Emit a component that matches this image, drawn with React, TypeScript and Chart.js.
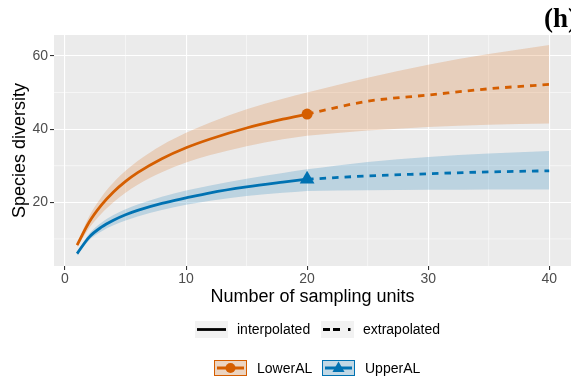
import React, { useEffect, useRef } from "react";
import { Chart, registerables } from "chart.js";

Chart.register(...registerables);

// ---- data ----
const interpX = [1, 2, 3, 4, 5, 6, 8, 10, 12, 15, 18, 20];
const extrapX = [20, 25, 30, 35, 40];

const lowerInterp = [8.3, 14.6, 19.2, 22.8, 25.7, 28.1, 31.9, 34.9, 37.3, 40.3, 42.7, 44.1];
const lowerExtrap = [44.1, 47.6, 49.3, 51.0, 52.2];
const lowerUpperCI = [8.8, 16.2, 21.4, 25.4, 28.6, 31.3, 35.6, 39.0, 41.8, 45.4, 48.3, 50.0];
const lowerUpperCIExt = [50.0, 54.0, 57.6, 60.5, 63.0];
const lowerLowerCI = [7.8, 13.0, 16.9, 20.0, 22.6, 24.8, 28.2, 30.9, 32.9, 35.3, 37.2, 38.2];
const lowerLowerCIExt = [38.2, 39.6, 40.6, 41.2, 41.5];

const upperInterp = [6.0, 10.5, 13.2, 15.1, 16.6, 17.8, 19.7, 21.2, 22.6, 24.2, 25.5, 26.3];
const upperExtrap = [26.3, 27.2, 27.8, 28.3, 28.6];
const upperUpperCI = [6.5, 11.4, 14.4, 16.5, 18.1, 19.4, 21.5, 23.2, 24.6, 26.4, 28.0, 29.0];
const upperUpperCIExt = [29.0, 31.0, 32.4, 33.3, 34.0];
const upperLowerCI = [5.5, 9.6, 12.0, 13.7, 15.0, 16.1, 17.9, 19.3, 20.4, 21.7, 22.6, 23.1];
const upperLowerCIExt = [23.1, 23.3, 23.4, 23.5, 23.5];

const observedX = 20;
const observedLower = 44.1;
const observedUpper = 26.3;

const xTicks = [0, 10, 20, 30, 40];
const xMinor = [5, 15, 25, 35];
const yTicks = [20, 40, 60];
const yMinor = [10, 30, 50];

const seriesNames = ["LowerAL", "UpperAL"];
const methodNames = ["interpolated", "extrapolated"];

// ---- styles ----
const ORANGE = "#D55E00";
const BLUE = "#0072B2";
const ORANGE_FILL = "rgba(213,94,0,0.2)";
const BLUE_FILL = "rgba(0,114,178,0.2)";
const FONT = "'Liberation Sans', Arial, Helvetica, sans-serif";

const pts = (xs: number[], ys: number[]) => xs.map((x, i) => ({ x, y: ys[i] }));

const bgPlugin = {
  id: "panelBg",
  beforeDraw(chart: any) {
    const { ctx, chartArea: a, scales } = chart;
    ctx.save();
    ctx.fillStyle = "#EBEBEB";
    ctx.fillRect(a.left, a.top, a.right - a.left, a.bottom - a.top);
    ctx.strokeStyle = "#FFFFFF";
    ctx.lineWidth = 0.55;
    xMinor.forEach((v) => {
      const px = scales.x.getPixelForValue(v);
      ctx.beginPath();
      ctx.moveTo(px, a.top);
      ctx.lineTo(px, a.bottom);
      ctx.stroke();
    });
    yMinor.forEach((v) => {
      const py = scales.y.getPixelForValue(v);
      ctx.beginPath();
      ctx.moveTo(a.left, py);
      ctx.lineTo(a.right, py);
      ctx.stroke();
    });
    ctx.restore();
  },
};

function drawTriangle(ctx: CanvasRenderingContext2D, cx: number, cy: number, r: number) {
  ctx.beginPath();
  ctx.moveTo(cx, cy - r);
  ctx.lineTo(cx + r * 0.866, cy + r * 0.5);
  ctx.lineTo(cx - r * 0.866, cy + r * 0.5);
  ctx.closePath();
  ctx.fill();
}

const legendPlugin = {
  id: "customLegend",
  afterDraw(chart: any) {
    const ctx: CanvasRenderingContext2D = chart.ctx;
    ctx.save();
    // panel tag
    ctx.fillStyle = "#000";
    ctx.font = "bold 27px 'Liberation Serif', 'Times New Roman', serif";
    ctx.textBaseline = "alphabetic";
    ctx.textAlign = "left";
    ctx.fillText("(h)", 544, 27);

    // row 1: method legend
    ctx.fillStyle = "#F2F2F2";
    ctx.fillRect(195, 321, 33, 17);
    ctx.fillRect(321, 321, 33, 17);
    ctx.strokeStyle = "#000";
    ctx.lineWidth = 2.8;
    ctx.beginPath();
    ctx.moveTo(197, 329.5);
    ctx.lineTo(226, 329.5);
    ctx.stroke();
    ctx.setLineDash([7, 3, 7, 8]);
    ctx.beginPath();
    ctx.moveTo(323, 329.5);
    ctx.lineTo(350.5, 329.5);
    ctx.stroke();
    ctx.setLineDash([]);
    ctx.fillStyle = "#000";
    ctx.font = `14px ${FONT}`;
    ctx.textBaseline = "middle";
    ctx.fillText(methodNames[0], 237, 330);
    ctx.fillText(methodNames[1], 363, 330);

    // row 2: series legend
    const keys = [
      { x: 214, color: ORANGE, fill: ORANGE_FILL, label: seriesNames[0], tx: 257, shape: "circle" },
      { x: 322, color: BLUE, fill: BLUE_FILL, label: seriesNames[1], tx: 365, shape: "triangle" },
    ];
    keys.forEach((k) => {
      ctx.fillStyle = "#F2F2F2";
      ctx.fillRect(k.x, 360, 33, 16);
      ctx.fillStyle = k.fill;
      ctx.fillRect(k.x, 360, 33, 16);
      ctx.strokeStyle = k.color;
      ctx.lineWidth = 1;
      ctx.strokeRect(k.x + 0.5, 360.5, 32, 15);
      ctx.lineWidth = 3;
      ctx.beginPath();
      ctx.moveTo(k.x + 3, 368);
      ctx.lineTo(k.x + 30, 368);
      ctx.stroke();
      ctx.fillStyle = k.color;
      if (k.shape === "circle") {
        ctx.beginPath();
        ctx.arc(k.x + 16.5, 368, 5, 0, Math.PI * 2);
        ctx.fill();
      } else {
        drawTriangle(ctx, k.x + 16.5, 368.5, 7);
      }
      ctx.fillStyle = "#000";
      ctx.fillText(k.label, k.tx, 369);
    });
    ctx.restore();
  },
};

export default function App() {
  const ref = useRef<HTMLCanvasElement>(null);

  useEffect(() => {
    if (!ref.current) return;
    const lineBase = {
      pointRadius: 0,
      borderWidth: 2.8,
      cubicInterpolationMode: "monotone" as const,
      fill: false,
      order: 1,
    };
    const bandBase = {
      pointRadius: 0,
      borderWidth: 0,
      borderColor: "rgba(0,0,0,0)",
      cubicInterpolationMode: "monotone" as const,
      order: 10,
    };
    const chart = new Chart(ref.current, {
      type: "line",
      data: {
        datasets: [
          { ...bandBase, data: pts(interpX, lowerUpperCI), fill: false },
          { ...bandBase, data: pts(interpX, lowerLowerCI), fill: "-1", backgroundColor: ORANGE_FILL },
          { ...bandBase, data: pts(extrapX, lowerUpperCIExt), fill: false },
          { ...bandBase, data: pts(extrapX, lowerLowerCIExt), fill: "-1", backgroundColor: ORANGE_FILL },
          { ...bandBase, data: pts(interpX, upperUpperCI), fill: false },
          { ...bandBase, data: pts(interpX, upperLowerCI), fill: "-1", backgroundColor: BLUE_FILL },
          { ...bandBase, data: pts(extrapX, upperUpperCIExt), fill: false },
          { ...bandBase, data: pts(extrapX, upperLowerCIExt), fill: "-1", backgroundColor: BLUE_FILL },
          { ...lineBase, label: "LowerAL interpolated", data: pts(interpX, lowerInterp), borderColor: ORANGE },
          { ...lineBase, label: "LowerAL extrapolated", data: pts(extrapX, lowerExtrap), borderColor: ORANGE, borderDash: [6.5, 6] },
          { ...lineBase, label: "UpperAL interpolated", data: pts(interpX, upperInterp), borderColor: BLUE },
          { ...lineBase, label: "UpperAL extrapolated", data: pts(extrapX, upperExtrap), borderColor: BLUE, borderDash: [6.5, 6] },
          {
            label: "LowerAL observed",
            data: [{ x: observedX, y: observedLower }],
            showLine: false,
            pointStyle: "circle",
            pointRadius: 5.5,
            pointBackgroundColor: ORANGE,
            pointBorderWidth: 0,
            borderColor: ORANGE,
            order: 0,
          },
          {
            label: "UpperAL observed",
            data: [{ x: observedX, y: observedUpper }],
            showLine: false,
            pointStyle: "triangle",
            pointRadius: 8.5,
            pointBackgroundColor: BLUE,
            pointBorderWidth: 0,
            borderColor: BLUE,
            order: 0,
          },
        ] as any,
      },
      options: {
        animation: false,
        responsive: false,
        maintainAspectRatio: false,
        events: [],
        layout: { autoPadding: false, padding: { left: 0, top: 35, right: 0, bottom: 73 } },
        plugins: {
          legend: { display: false },
          tooltip: { enabled: false },
        },
        scales: {
          x: {
            type: "linear",
            min: -0.91,
            max: 41.8,
            afterBuildTicks: (s: any) => {
              s.ticks = xTicks.map((v) => ({ value: v }));
            },
            afterFit: (s: any) => {
              s.height = 42;
              s.paddingLeft = 0;
              s.paddingRight = 0;
            },
            border: { display: false },
            grid: {
              color: "#FFFFFF",
              lineWidth: 1.1,
              tickColor: "#333333",
              tickLength: 4,
              tickWidth: 1.1,
            },
            ticks: {
              color: "#4D4D4D",
              font: { family: FONT, size: 14 },
              padding: 1,
              maxRotation: 0,
              autoSkip: false,
            },
            title: {
              display: true,
              text: "Number of sampling units",
              color: "#000",
              font: { family: FONT, size: 18 },
              padding: { top: 0, bottom: 0 },
            },
          },
          y: {
            type: "linear",
            min: 2.6,
            max: 65.7,
            afterBuildTicks: (s: any) => {
              s.ticks = yTicks.map((v) => ({ value: v }));
            },
            afterFit: (s: any) => {
              s.width = 54;
              s.paddingTop = 0;
              s.paddingBottom = 0;
            },
            border: { display: false },
            grid: {
              color: "#FFFFFF",
              lineWidth: 1.1,
              tickColor: "#333333",
              tickLength: 4,
              tickWidth: 1.1,
            },
            ticks: {
              color: "#4D4D4D",
              font: { family: FONT, size: 14 },
              padding: 2,
              autoSkip: false,
            },
            title: {
              display: true,
              text: "Species diversity",
              color: "#000",
              font: { family: FONT, size: 18 },
              padding: { top: 9, bottom: 0 },
            },
          },
        },
      } as any,
      plugins: [bgPlugin, legendPlugin],
    });
    return () => chart.destroy();
  }, []);

  return (
    <div style={{ position: "fixed", left: 0, top: 0, width: 571, height: 381, background: "#fff" }}>
      <canvas ref={ref} width={571} height={381} style={{ width: 571, height: 381, display: "block" }} />
    </div>
  );
}
